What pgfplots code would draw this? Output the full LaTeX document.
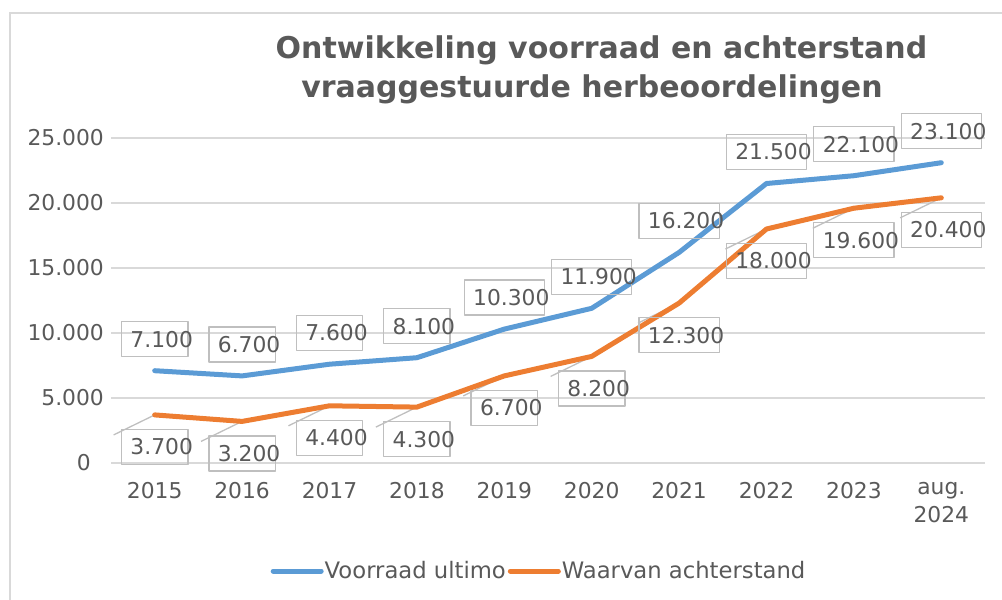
\documentclass[border=0pt]{standalone}
\usepackage{fontspec}
\setmainfont{DejaVu Sans}
\usepackage{pgfplots}
\usepackage{pgfplotstable}
\pgfplotsset{compat=1.18}
\pgfkeys{/pgf/number format/.cd, assume math mode=true, 1000 sep={.}}

\definecolor{txt}{HTML}{595959}
\definecolor{cblue}{HTML}{5B9BD5}
\definecolor{corange}{HTML}{ED7D31}
\definecolor{gridc}{HTML}{D9D9D9}
\definecolor{lbl}{HTML}{BFBFBF}

\newcommand{\lblfont}{\fontsize{21.8}{28}\selectfont}

% Voorraad ultimo
\pgfplotstableread{
x y
0 7100
1 6700
2 7600
3 8100
4 10300
5 11900
6 16200
7 21500
8 22100
9 23100
}\voorraad

% Waarvan achterstand
\pgfplotstableread{
x y
0 3700
1 3200
2 4400
3 4300
4 6700
5 8200
6 12300
7 18000
8 19600
9 20400
}\achterstand

\begin{document}
\begin{tikzpicture}
\useasboundingbox (0pt,0pt) rectangle (1002pt,-600pt);
\draw[gridc, line width=1.5pt] (10pt,-600pt) -- (10pt,-13pt) -- (1002pt,-13pt);
\node[anchor=base, inner sep=0pt, text=txt, font=\fontsize{30}{39}\selectfont\bfseries]
  at (601.5pt,-58pt) {Ontwikkeling voorraad en achterstand};
\node[anchor=base, inner sep=0pt, text=txt, font=\fontsize{30}{39}\selectfont\bfseries]
  at (592pt,-97pt) {vraaggestuurde herbeoordelingen};

\begin{axis}[
  at={(111pt,-463pt)}, anchor=south west,
  width=874pt, height=325pt, scale only axis,
  xmin=-0.5, xmax=9.5, ymin=0, ymax=25000,
  axis line style={draw=none},
  ymajorgrids, grid style={gridc, line width=1.3pt},
  major tick length=0pt,
  scaled y ticks=false,
  xtick={0,...,9},
  xticklabels={2015,2016,2017,2018,2019,2020,2021,2022,2023,{aug.\\2024}},
  ytick={0,5000,10000,15000,20000,25000},
  yticklabels={0\kern13pt,5.000,10.000,15.000,20.000,25.000},
  tick label style={text=txt, font=\lblfont},
  xticklabel style={anchor=north, inner sep=0pt, yshift=-19pt, align=center},
  yticklabel style={anchor=east, inner sep=0pt, xshift=-7pt},
  clip=false,
  legend columns=2,
  legend style={at={(0.4886,-0.3323)}, anchor=center, draw=none, fill=none,
    inner sep=0pt, font=\fontsize{22.7}{28}\selectfont, text=txt,
    nodes={inner sep=0pt},
    /tikz/every odd column/.append style={column sep=1pt},
    /tikz/every even column/.append style={column sep=2pt}},
  legend image code/.code={\draw[#1, line width=5pt, line cap=round] (0pt,0pt) -- (48pt,0pt);},
]
\addplot[lbl, line width=1.3pt, forget plot, quiver={u=-0.47, v=-1540}] table {\achterstand};

\addplot[cblue, line width=5pt, line join=round, line cap=round,
  point meta=y,
  nodes near coords={\kern8pt\pgfmathprintnumber{\pgfplotspointmeta}\kern-6pt},
  every node near coord/.append style={anchor=center, yshift=31.5pt, draw=lbl,
    line width=1.3pt, line cap=butt, inner xsep=1pt, inner ysep=0pt,
    minimum height=35pt, text=txt, font=\lblfont},
] table {\voorraad};
\addlegendentry{Voorraad ultimo}

\addplot[corange, line width=5pt, line join=round, line cap=round,
  point meta=y,
  nodes near coords={\kern8pt\pgfmathprintnumber{\pgfplotspointmeta}\kern-6pt},
  every node near coord/.append style={anchor=center, yshift=-32pt, draw=lbl,
    line width=1.3pt, line cap=butt, inner xsep=1pt, inner ysep=0pt,
    minimum height=35pt, text=txt, font=\lblfont},
] table {\achterstand};
\addlegendentry{Waarvan achterstand}
\end{axis}
\end{tikzpicture}
\end{document}
